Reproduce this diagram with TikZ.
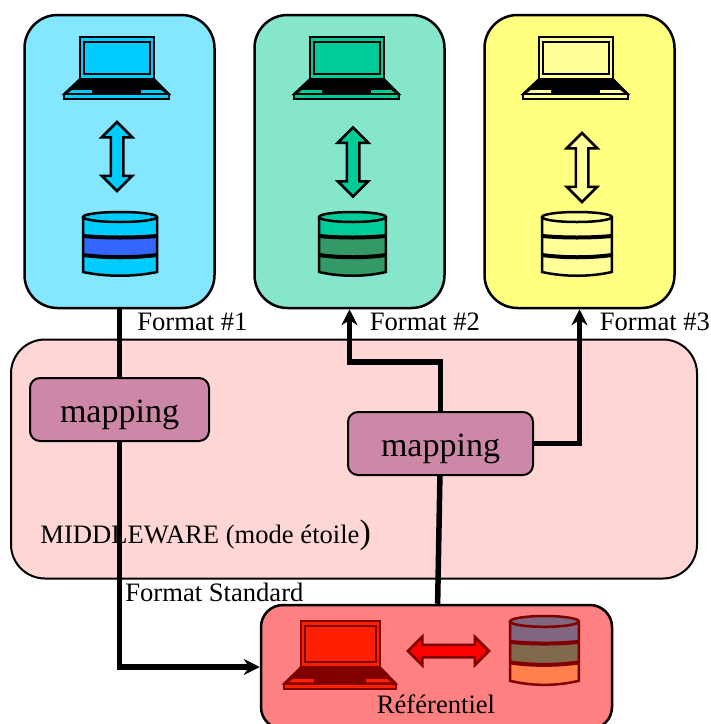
\documentclass[tikz,border=0pt]{standalone}
\usepackage{fontspec}
\setmainfont{Liberation Serif}
\usetikzlibrary{
    arrows.meta,
    positioning,
    shapes.arrows
}
\definecolor{cyanbox}{HTML}{85E6FF}
\definecolor{cyanicon}{HTML}{00CCFF}
\definecolor{cyanband}{HTML}{3366FF}
\definecolor{greenbox}{HTML}{85E6CC}
\definecolor{greenicon}{HTML}{00CC99}
\definecolor{greenband}{HTML}{339966}
\definecolor{yellowbox}{HTML}{FFFF80}
\definecolor{yellowicon}{HTML}{FFFF99}
\definecolor{redbox}{HTML}{FF8080}
\definecolor{redicon}{HTML}{FF2000}
\definecolor{redline}{HTML}{800000}
\definecolor{dbtop}{HTML}{80667F}
\definecolor{dbmid}{HTML}{80694D}
\definecolor{dbbot}{HTML}{FF7F4D}
\definecolor{middlebox}{HTML}{FFD6D6}
\definecolor{mapbox}{HTML}{CC88A6}
\tikzset{
    every picture/.style = {
        > = {Stealth[length = 8pt, width = 8pt]}
    },
    site/.style = {
        draw,
        line width = 1.25pt,
        rounded corners = 16.5pt,
        minimum width = 95pt,
        minimum height = 146.5pt
    },
    mapping/.style = {
        draw,
        line width = 1pt,
        fill = mapbox,
        rounded corners = 5pt,
        text height = 12.5pt,
        text depth = 0pt,
        font = \fontsize{17}{20}\selectfont
    },
    caption/.style = {
        anchor = base west,
        inner sep = 0pt,
        font = \fontsize{13.3}{16}\selectfont
    },
    link/.style = {
        line width = 2.75pt
    },
    both/.style = {
        double arrow,
        draw,
        line width = 1.25pt,
        inner sep = 2.5pt,
        minimum width = 15pt,
        double arrow head extend = 4.5pt
    },
    pics/laptop/.style n args = {2}{
        code = {
            \draw[#2, fill = #2, line width = 1pt] (1,57) -- (17,42) -- (91,42) -- (106,57) -- cycle;
            \fill[#1] (5,56) -- (9,53) -- (29,53) -- (29,56) -- cycle;
            \fill[#1] (78,56) -- (78,53) -- (98,53) -- (102,56) -- cycle;
            \draw[#2, fill = #1, line width = 1pt] (1,57) rectangle (106,62);
            \draw[#2, fill = #1, line width = 1pt] (17,0) rectangle (91,42);
            \draw[#2, fill = #1, line width = 1pt] (21,5) rectangle (87,37);
        }
    },
    pics/database/.style n args = {4}{
        code = {
            \fill[#1] (0,5) -- (74,5) -- (74,24) .. controls (50,26) and (24,26) .. (0,24) -- cycle;
            \fill[#2] (0,24) .. controls (24,26) and (50,26) .. (74,24) -- (74,43) .. controls (50,46) and (24,46) .. (0,43) -- cycle;
            \fill[#3] (0,43) .. controls (24,46) and (50,46) .. (74,43) -- (74,60) .. controls (50,65) and (24,65) .. (0,60) -- cycle;
            \draw[#4, line width = 2pt] (0,24) .. controls (24,26) and (50,26) .. (74,24);
            \draw[#4, line width = 2pt] (0,43) .. controls (24,46) and (50,46) .. (74,43);
            \draw[#4, line width = 1.25pt] (0,5) -- (0,60) .. controls (24,65) and (50,65) .. (74,60) -- (74,5);
            \draw[#4, fill = #1, line width = 1.25pt] (37,5) ellipse [x radius = 37, y radius = 5];
        }
    }
}

\begin{document}
\begin{tikzpicture}[x = 0.5pt, y = -0.5pt]
    \useasboundingbox (0,0) rectangle (711,724);

    \node[site, fill = cyanbox] (box1) at (119.5,161.5) {};
    \node[site, fill = greenbox, right = 18.75pt of box1] (box2) {};
    \node[site, fill = yellowbox, right = 18.75pt of box2] (box3) {};
    \node[draw, line width = 1pt, fill = middlebox, rounded corners = 17pt, minimum width = 343pt, minimum height = 119.5pt] (middle) at (354,459) {};
    \node[draw, line width = 1.25pt, fill = redbox, rounded corners = 11pt, minimum width = 175.5pt, minimum height = 62pt] (ref) at (436.5,667) {};
    \node[mapping, minimum width = 89.5pt, minimum height = 31.5pt] (map1) at (119.5,409.5) {mapping};
    \node[mapping, minimum width = 92.5pt, minimum height = 31.5pt] (map2) at (440.5,443.5) {mapping};

    % sites
    \pic at (63,37) {laptop = {cyanicon}{black}};
    \pic at (293,37) {laptop = {greenicon}{black}};
    \pic at (522,37) {laptop = {yellowicon}{black}};
    \pic[scale = 1.065, yscale = 1.03] at (283,621) {laptop = {redicon}{redline}};
    \pic at (83,212) {database = {cyanicon}{cyanband}{cyanicon}{black}};
    \pic[xscale = 0.905] at (319,212) {database = {greenicon}{greenband}{greenband}{black}};
    \pic[xscale = 0.945] at (542,212) {database = {yellowicon}{yellowicon}{yellowicon}{black}};
    \pic[xscale = 0.93, yscale = 1.08] at (510,616) {database = {dbtop}{dbmid}{dbbot}{redline}};

    \node[both, fill = cyanicon, rotate = 90, minimum height = 34.5pt] (arrow1) at (117,156.5) {};
    \node[both, fill = greenicon, rotate = 90, minimum height = 34.5pt] (arrow2) at (353,162) {};
    \node[both, fill = yellowicon, rotate = 90, minimum height = 34.5pt] (arrow3) at (582,167.5) {};
    \node[both, fill = red, draw = redline, minimum height = 40.5pt, minimum width = 13pt, inner sep = 2.5pt, double arrow head extend = 4pt] (arrow4) at (448.5,651) {};

    % links
    \coordinate (bend) at (440.5,362);
    \draw[link] (box1) -- (map1);
    \draw[link, ->] (map1) |- (ref);
    \draw[link, ->] (map2) -- (bend) -| (box2);
    \draw[link, ->] (map2) -| (box3);
    \draw[link] (map2) -- (ref);

    % texts
    \node[caption] (fmt1) at (137,330) {Format \#1};
    \node[caption] (fmt2) at (369.5,330) {Format \#2};
    \node[caption] (fmt3) at (599.5,330) {Format \#3};
    \node[caption] (std) at (125,601) {Format Standard};
    \node[caption] (mode) at (40,543) {MIDDLEWARE (mode étoile{\fontsize{17}{20}\selectfont )}};
    \node[caption, anchor = base] (reftext) at (436,713) {Référentiel};
\end{tikzpicture}
\end{document}
